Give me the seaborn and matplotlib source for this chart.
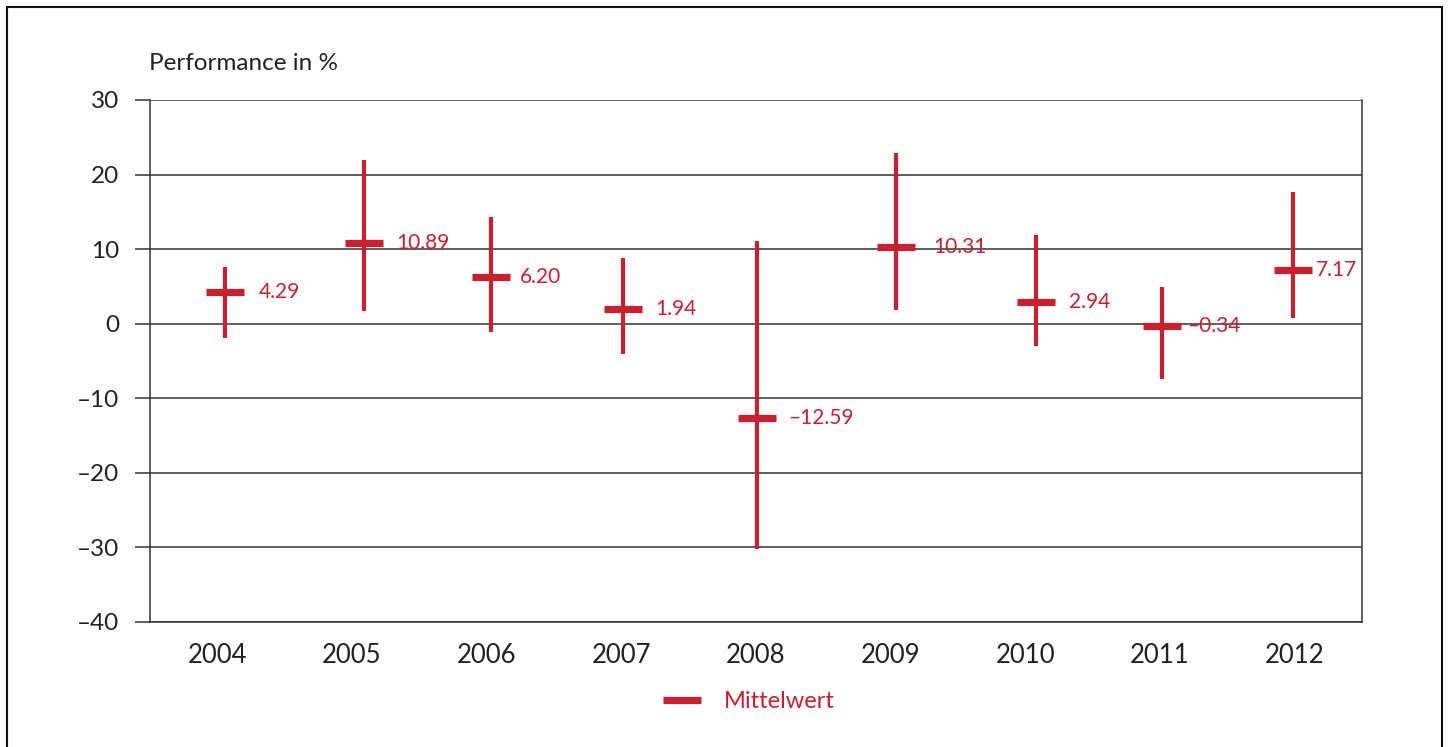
import matplotlib
matplotlib.use("Agg")
import matplotlib.pyplot as plt
from matplotlib.lines import Line2D
from matplotlib.patches import Rectangle
import seaborn as sns
import pandas as pd

years = ["2004", "2005", "2006", "2007", "2008", "2009", "2010", "2011", "2012"]
means = [4.29, 10.89, 6.20, 1.94, -12.59, 10.31, 2.94, -0.34, 7.17]
highs = [7.65, 21.95, 14.35, 8.75, 11.1, 22.9, 11.95, 4.9, 17.65]
lows = [-1.9, 1.7, -1.1, -4.0, -30.2, 1.8, -2.95, -7.35, 0.7]
mean_labels = ["4.29", "10.89", "6.20", "1.94", "\u201312.59", "10.31", "2.94", "\u20130.34", "7.17"]
y_ticks = [-40, -30, -20, -10, 0, 10, 20, 30]

# layout: the original marks sit a little off the category centres
x_nudge = [0.06, 0.09, 0.03, 0.01, 0.01, 0.04, 0.08, 0.015, -0.015]
label_offsets = [0.25, 0.24, 0.22, 0.24, 0.23, 0.28, 0.245, 0.185, 0.175]

red = "#c8202f"
grid = "#333333"
txt = "#222222"

df = pd.DataFrame({"Jahr": years, "Mittelwert": means, "Hoch": highs, "Tief": lows})
df["pos"] = [i + n for i, n in enumerate(x_nudge)]

sns.set_style("white")
plt.rcParams["font.family"] = ["Lato", "DejaVu Sans"]

fig = plt.figure(figsize=(14.51, 7.47), dpi=100)
ax = fig.add_axes([150 / 1451, 1 - 622 / 747, (1362 - 150) / 1451, 522 / 747])

# Spannweite
ax.vlines(df["pos"], df["Tief"], df["Hoch"], color=red, lw=3.0, zorder=3)
# Mittelwert
sns.scatterplot(data=df, x="pos", y="Mittelwert", marker="_", s=720,
                color=red, linewidth=5.2, zorder=4, ax=ax, legend=False)

for p, m, lab, off in zip(df["pos"], means, mean_labels, label_offsets):
    ax.text(p + off, m, lab, color=red, fontsize=15, va="center", ha="left", zorder=5)

ax.set_xlim(-0.5, len(years) - 0.5)
ax.set_ylim(-40, 30)
ax.set_xticks(range(len(years)))
ax.set_xticklabels(years, fontsize=18.5, color=txt)
ax.set_xticks([i - 0.5 for i in range(len(years) + 1)], minor=True)
ax.tick_params(axis="x", which="major", length=0, pad=15)
ax.tick_params(axis="x", which="minor", length=11, width=1.1, color=grid, direction="out")
ax.set_yticks(y_ticks)
ax.set_yticklabels([str(v).replace("-", "\u2013") for v in y_ticks], fontsize=17.5, color=txt)
ax.tick_params(axis="y", length=11, width=1.1, color=grid, direction="out", pad=11, left=True)
ax.yaxis.grid(True, color=grid, lw=1.1)
ax.set_axisbelow(True)
ax.set_xlabel("")
ax.set_ylabel("")
for side in ["left", "right", "bottom"]:
    ax.spines[side].set_visible(True)
    ax.spines[side].set_color(grid)
    ax.spines[side].set_linewidth(1.1)
ax.spines["top"].set_visible(False)

fig.text(149 / 1451, 1 - 63 / 747, "Performance in %", fontsize=17.5, color=txt,
         ha="left", va="center")

handle = Line2D([], [], color=red, lw=5.2, solid_capstyle="butt")
fig.legend([handle], ["Mittelwert"], loc="center", bbox_to_anchor=(749 / 1451, 1 - 702 / 747),
           frameon=False, fontsize=17, labelcolor=red, handlelength=1.6, handletextpad=1.0)

fig.patches.append(Rectangle((7 / 1451, -0.05), (1442 - 7) / 1451, 1.05 - 7 / 747,
                             transform=fig.transFigure, fill=False, ec="#111111", lw=1.5))

fig.savefig("out.png", dpi=100)
